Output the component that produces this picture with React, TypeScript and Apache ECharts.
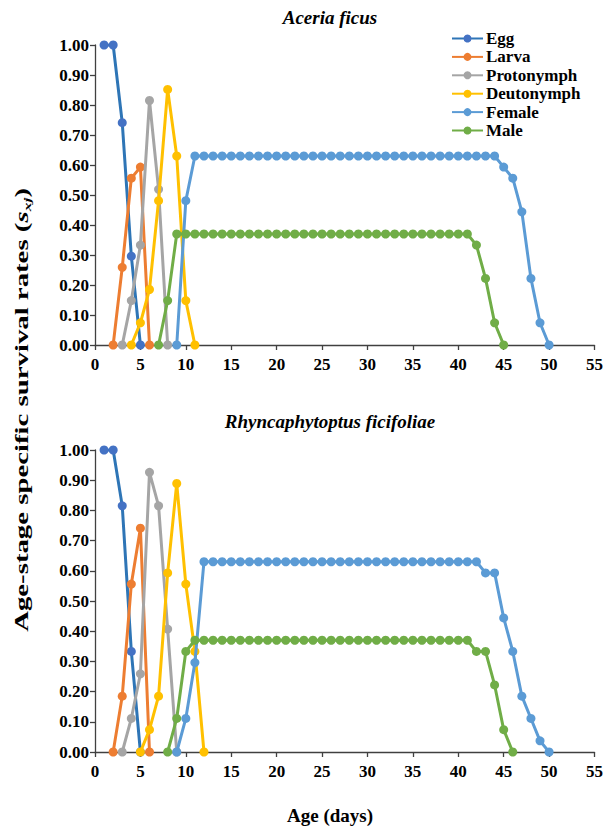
import React, { useEffect, useRef } from "react";
import * as echarts from "echarts";

const FONT = "Liberation Serif, Times New Roman, serif";

const stageNames = ["Egg", "Larva", "Protonymph", "Deutonymph", "Female", "Male"];
const lineColors = ["#2E75B6", "#ED7D31", "#A5A5A5", "#FFC000", "#5B9BD5", "#70AD47"];
const markerColors = ["#4472C4", "#ED7D31", "#A5A5A5", "#FFC000", "#5B9BD5", "#70AD47"];

const titleA = "Aceria ficus";
const titleB = "Rhyncaphytoptus ficifoliae";
const xAxisTitle = "Age (days)";

const xMin = 0;
const xMax = 55;
const xStep = 5;
const yMin = 0;
const yMax = 1;
const yStep = 0.1;

// Aceria ficus — first day of each series and its survival rates
const eggAStart = 1;
const eggA = [1.0, 1.0, 0.741, 0.296, 0];
const larvaAStart = 2;
const larvaA = [0, 0.259, 0.556, 0.593, 0];
const protoAStart = 3;
const protoA = [0, 0.148, 0.333, 0.815, 0.519, 0];
const deutoAStart = 4;
const deutoA = [0, 0.074, 0.185, 0.481, 0.852, 0.63, 0.148, 0];
const femaleAStart = 9;
const femaleA = [
  0, 0.481,
  0.63, 0.63, 0.63, 0.63, 0.63, 0.63, 0.63, 0.63, 0.63, 0.63,
  0.63, 0.63, 0.63, 0.63, 0.63, 0.63, 0.63, 0.63, 0.63, 0.63,
  0.63, 0.63, 0.63, 0.63, 0.63, 0.63, 0.63, 0.63, 0.63, 0.63,
  0.63, 0.63, 0.63, 0.63,
  0.593, 0.556, 0.444, 0.222, 0.074, 0,
];
const maleAStart = 7;
const maleA = [
  0, 0.148,
  0.37, 0.37, 0.37, 0.37, 0.37, 0.37, 0.37, 0.37, 0.37, 0.37,
  0.37, 0.37, 0.37, 0.37, 0.37, 0.37, 0.37, 0.37, 0.37, 0.37,
  0.37, 0.37, 0.37, 0.37, 0.37, 0.37, 0.37, 0.37, 0.37, 0.37,
  0.37, 0.37, 0.37,
  0.333, 0.222, 0.074, 0,
];

// Rhyncaphytoptus ficifoliae
const eggBStart = 1;
const eggB = [1.0, 1.0, 0.815, 0.333, 0];
const larvaBStart = 2;
const larvaB = [0, 0.185, 0.556, 0.741, 0];
const protoBStart = 3;
const protoB = [0, 0.111, 0.259, 0.926, 0.815, 0.407, 0];
const deutoBStart = 5;
const deutoB = [0, 0.074, 0.185, 0.593, 0.889, 0.556, 0.333, 0];
const femaleBStart = 9;
const femaleB = [
  0, 0.111, 0.296,
  0.63, 0.63, 0.63, 0.63, 0.63, 0.63, 0.63, 0.63, 0.63, 0.63,
  0.63, 0.63, 0.63, 0.63, 0.63, 0.63, 0.63, 0.63, 0.63, 0.63,
  0.63, 0.63, 0.63, 0.63, 0.63, 0.63, 0.63, 0.63, 0.63, 0.63,
  0.63,
  0.593, 0.593, 0.444, 0.333, 0.185, 0.111, 0.037, 0,
];
const maleBStart = 8;
const maleB = [
  0, 0.111, 0.333,
  0.37, 0.37, 0.37, 0.37, 0.37, 0.37, 0.37, 0.37, 0.37, 0.37,
  0.37, 0.37, 0.37, 0.37, 0.37, 0.37, 0.37, 0.37, 0.37, 0.37,
  0.37, 0.37, 0.37, 0.37, 0.37, 0.37, 0.37, 0.37, 0.37, 0.37,
  0.37,
  0.333, 0.333, 0.222, 0.074, 0,
];

const toPairs = (start: number, vals: number[]) => vals.map((v, i) => [start + i, v]);

const panelA = [
  toPairs(eggAStart, eggA),
  toPairs(larvaAStart, larvaA),
  toPairs(protoAStart, protoA),
  toPairs(deutoAStart, deutoA),
  toPairs(femaleAStart, femaleA),
  toPairs(maleAStart, maleA),
];
const panelB = [
  toPairs(eggBStart, eggB),
  toPairs(larvaBStart, larvaB),
  toPairs(protoBStart, protoB),
  toPairs(deutoBStart, deutoB),
  toPairs(femaleBStart, femaleB),
  toPairs(maleBStart, maleB),
];

const axisLineStyle = { color: "#404040", width: 1.3 };
const labelStyle = { fontFamily: FONT, fontWeight: "bold" as const, fontSize: 17, color: "#000" };

function makeXAxis(gridIndex: number) {
  return {
    type: "value",
    gridIndex,
    min: xMin,
    max: xMax,
    interval: xStep,
    axisLine: { show: true, lineStyle: axisLineStyle },
    axisTick: { show: true, length: 5, lineStyle: axisLineStyle },
    axisLabel: {
      fontFamily: FONT,
      fontWeight: "bold",
      fontSize: 17,
      color: "#000",
      margin: 11,
    },
    splitLine: { show: false },
  };
}
function makeYAxis(gridIndex: number) {
  return {
    type: "value",
    gridIndex,
    min: yMin,
    max: yMax,
    interval: yStep,
    axisLine: { show: true, lineStyle: axisLineStyle },
    axisTick: { show: true, length: 5, lineStyle: axisLineStyle },
    axisLabel: {
      fontFamily: FONT,
      fontWeight: "bold",
      fontSize: 17,
      color: "#000",
      margin: 6,
      formatter: (v: number) => v.toFixed(2),
    },
    splitLine: { show: false },
  };
}

export default function App() {
  const ref = useRef<HTMLDivElement>(null);
  useEffect(() => {
    if (!ref.current) return;
    const chart = echarts.init(ref.current, undefined, { renderer: "svg" });
    const series: any[] = [];
    [panelA, panelB].forEach((panel, gi) => {
      panel.forEach((data, si) => {
        series.push({
          name: stageNames[si],
          type: "line",
          xAxisIndex: gi,
          yAxisIndex: gi,
          data,
          symbol: "circle",
          symbolSize: 9,
          lineStyle: { color: lineColors[si], width: 3 },
          itemStyle: { color: markerColors[si], borderWidth: 0 },
          z: 2 + si,
        });
      });
    });
    chart.setOption({
      animation: false,
      backgroundColor: "#fff",
      textStyle: { fontFamily: FONT },
      grid: [
        { left: 95, top: 45, width: 502, height: 300 },
        { left: 95, top: 450, width: 502, height: 302 },
      ],
      xAxis: [makeXAxis(0), makeXAxis(1)],
      yAxis: [makeYAxis(0), makeYAxis(1)],
      legend: {
        data: stageNames,
        orient: "vertical",
        left: 446,
        top: 25,
        itemWidth: 31,
        itemHeight: 10,
        itemGap: 1.4,
        textStyle: { ...labelStyle, fontSize: 17, lineHeight: 17, padding: [0, 0, 0, -2] },
      },
      graphic: [
        {
          type: "text",
          x: 330,
          y: 17,
          style: {
            text: titleA,
            fontFamily: FONT,
            fontWeight: "bold",
            fontStyle: "italic",
            fontSize: 19,
            fill: "#000",
            align: "center",
            verticalAlign: "middle",
          },
        },
        {
          type: "text",
          x: 330,
          y: 421,
          style: {
            text: titleB,
            fontFamily: FONT,
            fontWeight: "bold",
            fontStyle: "italic",
            fontSize: 19,
            fill: "#000",
            align: "center",
            verticalAlign: "middle",
          },
        },
        {
          type: "text",
          x: 330,
          y: 815,
          style: {
            text: xAxisTitle,
            fontFamily: FONT,
            fontWeight: "bold",
            fontSize: 19,
            fill: "#000",
            align: "center",
            verticalAlign: "middle",
          },
        },
        {
          type: "text",
          x: 22,
          y: 410,
          rotation: Math.PI / 2,
          scaleX: 1.6,
          style: {
            text: "{n|Age-stage specific survival rates (}{i|s}{s|xj}{n|)}",
            align: "center",
            verticalAlign: "middle",
            fill: "#000",
            rich: {
              n: { fontFamily: FONT, fontWeight: "bold", fontSize: 18, lineHeight: 22, verticalAlign: "middle" },
              i: { fontFamily: FONT, fontWeight: "bold", fontStyle: "italic", fontSize: 18, lineHeight: 22, verticalAlign: "middle" },
              s: { fontFamily: FONT, fontWeight: "bold", fontStyle: "italic", fontSize: 11, lineHeight: 22, verticalAlign: "bottom", padding: [8, 0, 0, 0] },
            },
          },
        },
      ],
      series,
    });
    return () => chart.dispose();
  }, []);
  return (
    <div
      ref={ref}
      style={{ position: "fixed", left: 0, top: 0, width: 606, height: 827, background: "#fff" }}
    />
  );
}
